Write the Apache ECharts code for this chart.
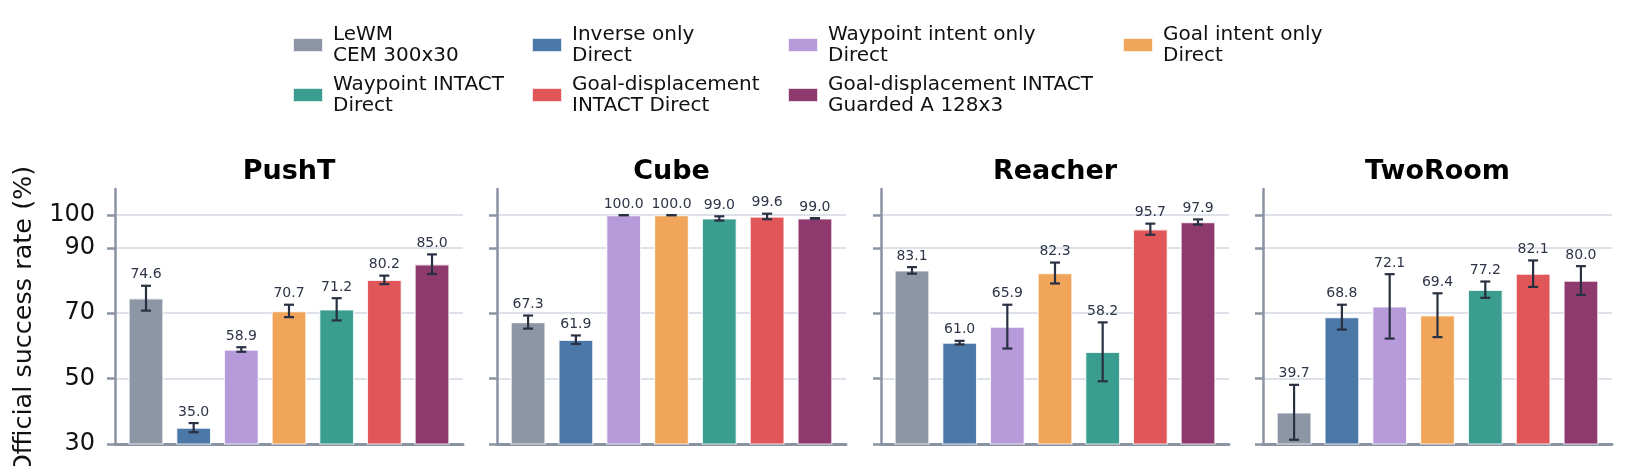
<!DOCTYPE html>
<html>
<head>
<meta charset="utf-8">
<script src="https://cdn.jsdelivr.net/npm/echarts@6/dist/echarts.min.js"></script>
<style>
html,body{margin:0;padding:0;background:#fff;}
#chart{width:1625px;height:466px;}
</style>
</head>
<body>
<div id="chart"></div>
<script>
const methods = [
  'LeWM\nCEM 300x30',
  'Inverse only\nDirect',
  'Waypoint intent only\nDirect',
  'Goal intent only\nDirect',
  'Waypoint INTACT\nDirect',
  'Goal-displacement\nINTACT Direct',
  'Goal-displacement INTACT\nGuarded A 128x3'
];
const methodColors = ['#8c96a5', '#4c78a8', '#b79ad9', '#f0a55a', '#3a9d8f', '#e15759', '#8e3a6e'];
const panels = ['PushT', 'Cube', 'Reacher', 'TwoRoom'];

const pushtValues   = [74.6, 35.0, 58.9, 70.7, 71.2, 80.2, 85.0];
const pushtErrors   = [3.8, 1.4, 0.7, 1.9, 3.4, 1.3, 3.0];
const cubeValues    = [67.3, 61.9, 100.0, 100.0, 99.0, 99.6, 99.0];
const cubeErrors    = [2.0, 1.3, 0.0, 0.0, 0.65, 0.85, 0.1];
const reacherValues = [83.1, 61.0, 65.9, 82.3, 58.2, 95.7, 97.9];
const reacherErrors = [1.0, 0.55, 6.7, 3.2, 9.0, 1.7, 0.8];
const twoRoomValues = [39.7, 68.8, 72.1, 69.4, 77.2, 82.1, 80.0];
const twoRoomErrors = [8.4, 3.8, 9.85, 6.7, 2.5, 4.05, 4.4];

const yTicks = [30, 50, 70, 90, 100];
const yLabel = 'Official success rate (%)';

const panelValues = [pushtValues, cubeValues, reacherValues, twoRoomValues];
const panelErrors = [pushtErrors, cubeErrors, reacherErrors, twoRoomErrors];

const FONT = 'DejaVu Sans';
const gridLefts = [115, 497, 881, 1263];
const gridWidths = [348, 349, 348, 349];
const gridTop = 189, gridHeight = 255;
const spine = '#8a93a3';

const grids = [], xAxes = [], yAxes = [], series = [], graphics = [];

panels.forEach((p, pi) => {
  grids.push({left: gridLefts[pi], top: gridTop, width: gridWidths[pi], height: gridHeight, containLabel: false});
  xAxes.push({
    type: 'value', gridIndex: pi, min: -0.65, max: 6.65,
    axisLine: {show: true, onZero: false, lineStyle: {color: spine, width: 3}},
    axisTick: {show: false}, axisLabel: {show: false}, splitLine: {show: false}
  });
  yAxes.push({
    type: 'value', gridIndex: pi, min: 30, max: 108,
    axisLine: {show: true, onZero: false, lineStyle: {color: spine, width: 2.5}},
    axisTick: {show: true, length: 8, customValues: yTicks, lineStyle: {color: spine, width: 2.5}},
    axisLabel: {show: pi === 0, customValues: yTicks, fontFamily: FONT, fontSize: 24, color: '#111', margin: 20},
    splitLine: {show: true, lineStyle: {color: '#dde1ea', width: 2}}
  });
  methods.forEach((m, mi) => {
    series.push({
      type: 'bar', name: m, xAxisIndex: pi, yAxisIndex: pi,
      barWidth: 35, barGap: '-100%',
      itemStyle: {color: methodColors[mi], borderColor: 'rgba(255,255,255,0.8)', borderWidth: 1.2},
      data: [[mi, panelValues[pi][mi]]],
      emphasis: {disabled: true}
    });
  });
  series.push({
    type: 'custom', xAxisIndex: pi, yAxisIndex: pi, z: 5,
    data: panelValues[pi].map((v, i) => [i, v, panelErrors[pi][i]]),
    encode: {x: 0, y: 1},
    renderItem: function (params, api) {
      const x = api.value(0), v = api.value(1), e = api.value(2);
      const top = api.coord([x, v + e]);
      const bot = api.coord([x, v - e]);
      const cx = top[0], cap = 5;
      const st = {stroke: '#283041', lineWidth: 2.2};
      return {
        type: 'group',
        children: [
          {type: 'line', shape: {x1: cx, y1: top[1], x2: cx, y2: bot[1]}, style: st},
          {type: 'line', shape: {x1: cx - cap, y1: top[1], x2: cx + cap, y2: top[1]}, style: st},
          {type: 'line', shape: {x1: cx - cap, y1: bot[1], x2: cx + cap, y2: bot[1]}, style: st},
          {type: 'text', style: {text: v.toFixed(1), x: cx, y: top[1] - 4, align: 'center', verticalAlign: 'bottom',
            fill: '#2d3447', font: '14px "DejaVu Sans"'}}
        ]
      };
    }
  });
  graphics.push({
    type: 'text',
    x: gridLefts[pi] + gridWidths[pi] / 2, y: 172,
    style: {text: p, fill: '#000', font: 'bold 27px "DejaVu Sans"', align: 'center', verticalAlign: 'middle'}
  });
});

graphics.push({
  type: 'text', x: 24, y: 320, rotation: Math.PI / 2,
  style: {text: yLabel, fill: '#111', font: '25.5px "DejaVu Sans"', align: 'center', verticalAlign: 'middle'}
});

const legendCols = [
  {left: 292, data: [methods[0], methods[4]]},
  {left: 531, data: [methods[1], methods[5]]},
  {left: 787, data: [methods[2], methods[6]]},
  {left: 1122, data: [methods[3]]}
];
const legends = legendCols.map(c => ({
  orient: 'vertical', left: c.left, top: 24, padding: 0, itemGap: 8,
  itemWidth: 30, itemHeight: 14, icon: 'rect', selectedMode: false,
  data: c.data,
  textStyle: {fontFamily: FONT, fontSize: 20, lineHeight: 21, color: '#111', padding: [0, 0, 0, 5]}
}));

const chart = echarts.init(document.getElementById('chart'), null, {renderer: 'canvas'});
chart.setOption({
  animation: false,
  textStyle: {fontFamily: FONT},
  grid: grids, xAxis: xAxes, yAxis: yAxes, series: series,
  legend: legends, graphic: graphics
});
</script>
</body>
</html>
